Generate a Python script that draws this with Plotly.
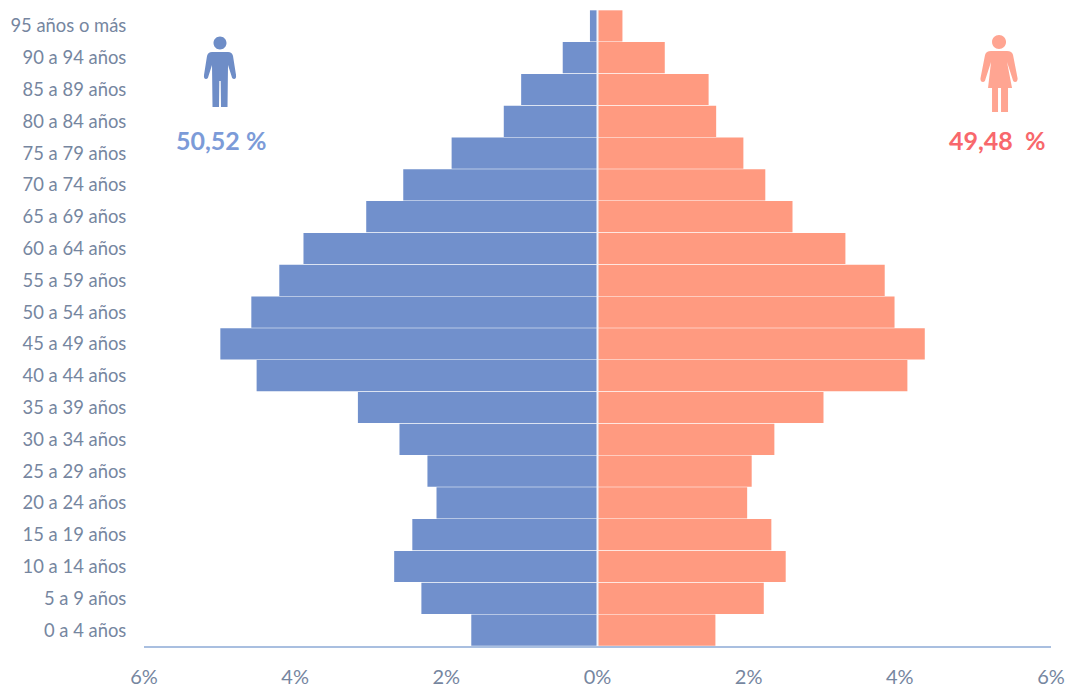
import plotly.graph_objects as go

# Age groups, from the oldest at the top to the youngest at the bottom
age_groups = ["95 años o más", "90 a 94 años", "85 a 89 años", "80 a 84 años", "75 a 79 años",
              "70 a 74 años", "65 a 69 años", "60 a 64 años", "55 a 59 años", "50 a 54 años",
              "45 a 49 años", "40 a 44 años", "35 a 39 años", "30 a 34 años", "25 a 29 años",
              "20 a 24 años", "15 a 19 años", "10 a 14 años", "5 a 9 años", "0 a 4 años"]

# Share of the total population, in percent
men = [0.10, 0.46, 1.01, 1.24, 1.93, 2.57, 3.06, 3.89, 4.21, 4.58,
       4.99, 4.51, 3.17, 2.62, 2.25, 2.13, 2.45, 2.69, 2.33, 1.67]
women = [0.33, 0.89, 1.47, 1.57, 1.93, 2.22, 2.58, 3.28, 3.80, 3.93,
         4.33, 4.10, 2.99, 2.34, 2.04, 1.98, 2.30, 2.49, 2.20, 1.56]

axis_ticks = [-6, -4, -2, 0, 2, 4, 6]
axis_labels = ["6%", "4%", "2%", "0%", "2%", "4%", "6%"]

men_total = "50,52 %"
women_total = "49,48\u00a0 %"

MEN_COLOR = "#7190CC"
WOMEN_COLOR = "#FF9A80"
TICK_COLOR = "#76869F"
FONT = "Lato"


def head(r):
    # Circle from four cubic arcs, since pixel-sized shapes only rescale M/L/C/Q commands
    k = round(r * 0.5523, 2)
    return (f"M {-r} 0 C {-r} {k} {-k} {r} 0 {r} C {k} {r} {r} {k} {r} 0 "
            f"C {r} {-k} {k} {-r} 0 {-r} C {-k} {-r} {-r} {-k} {-r} 0 Z ")


# Pictogram outlines in pixels relative to the anchor (the centre of the figure's head);
# y grows upward in pixel-sized shapes, so everything below the head is negative
MAN_PATH = head(6.5) + (
    "M -8 -9 L 8 -9 Q 12 -9 13 -13 L 16 -32 Q 16.5 -36 14 -36 Q 12 -36 11.5 -33 L 8 -22 "
    "L 7.5 -64 L 1 -64 L 0.7 -38 L -0.7 -38 L -1 -64 L -7.5 -64 L -8 -22 "
    "L -11.5 -33 Q -12 -36 -14 -36 Q -16.5 -36 -16 -32 L -13 -13 Q -12 -9 -8 -9 Z"
)
WOMAN_PATH = head(7) + (
    "M -8 -9 L 8 -9 Q 13 -9 14 -13 L 18.5 -36 Q 19 -40 16 -40 Q 14 -40 13.5 -37 L 8 -20 "
    "L 13 -46 L 9 -46 L 9 -70 L 2 -70 L 2 -46 L -1 -46 L -1 -70 L -7 -70 L -7 -46 L -11 -46 L -8 -20 "
    "L -13.5 -37 Q -14 -40 -16 -40 Q -19 -40 -18.5 -36 L -14 -13 Q -13 -9 -8 -9 Z"
)


def pictogram(path, x, y, color):
    return dict(type="path", path=path, xref="paper", yref="paper",
                xsizemode="pixel", ysizemode="pixel", xanchor=x, yanchor=y,
                fillcolor=color, line_width=0, layer="above")


fig = go.Figure()
fig.add_bar(y=age_groups, x=[-v for v in men], orientation="h",
            marker=dict(color=MEN_COLOR, line_width=0), name="Hombres")
fig.add_bar(y=age_groups, x=women, orientation="h",
            marker=dict(color=WOMEN_COLOR, line_width=0), name="Mujeres")

fig.update_layout(
    width=1077, height=690,
    margin=dict(l=144, r=26, t=10, b=44, autoexpand=False),
    paper_bgcolor="white", plot_bgcolor="white",
    barmode="relative", bargap=0.02, showlegend=False,
    font=dict(family=FONT, size=18, color=TICK_COLOR),
    shapes=[
        # White divider along the zero line
        dict(type="line", x0=0, x1=0, y0=0, y1=1, xref="x", yref="paper",
             line=dict(color="#F4F5FA", width=2), layer="above"),
        pictogram(MAN_PATH, 0.0838, 0.948, "#6E8DC7"),
        pictogram(WOMAN_PATH, 0.9427, 0.9497, "#FFA592"),
    ],
    annotations=[
        dict(text=men_total, xref="paper", yref="paper", x=0.0849, y=0.795, showarrow=False,
             xanchor="center", yanchor="middle",
             font=dict(family=FONT, size=25, color="#7C9BD8", weight="bold")),
        dict(text=women_total, xref="paper", yref="paper", x=0.9405, y=0.795, showarrow=False,
             xanchor="center", yanchor="middle",
             font=dict(family=FONT, size=25, color="#F8686C", weight="bold")),
    ],
)
fig.update_xaxes(range=[-6, 6], tickvals=axis_ticks, ticktext=axis_labels, showgrid=False,
                 zeroline=False, showline=True, linecolor="#A9BFE0", linewidth=2,
                 ticks="outside", ticklen=12, tickcolor="rgba(0,0,0,0)",
                 tickfont=dict(size=20, color=TICK_COLOR))
fig.update_yaxes(categoryorder="array", categoryarray=age_groups[::-1], showgrid=False,
                 zeroline=False, showline=False, ticks="outside", ticklen=13,
                 tickcolor="rgba(0,0,0,0)", tickfont=dict(size=18.4, color=TICK_COLOR))

fig.write_html("out.html", config={"displayModeBar": False})
